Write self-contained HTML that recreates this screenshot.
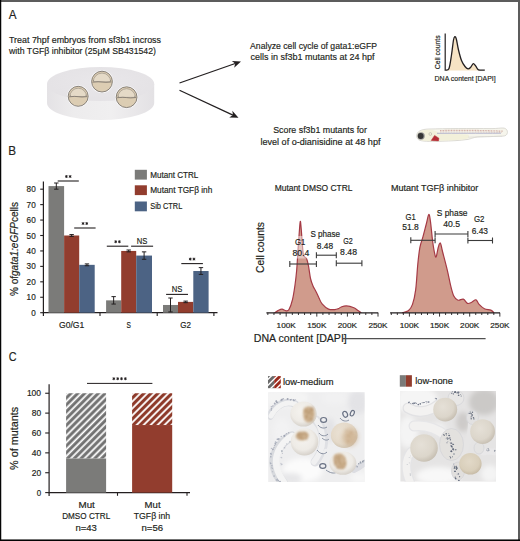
<!DOCTYPE html>
<html><head><meta charset="utf-8"><style>
html,body{margin:0;padding:0;background:#fff;width:520px;height:541px;overflow:hidden}
svg{display:block}
svg text{font-family:"Liberation Sans", sans-serif;}
</style></head><body>
<svg width="520" height="541" viewBox="0 0 520 541">
<rect x="0" y="0" width="520" height="541" fill="#fff"/>
<text x="8.70" y="19.20" font-size="13.4" fill="#231f20" stroke="#231f20" stroke-width="0.18" textLength="7.80" lengthAdjust="spacingAndGlyphs" >A</text>
<text x="9.00" y="43.10" font-size="9.8" fill="#231f20" stroke="#231f20" stroke-width="0.18" textLength="152.00" lengthAdjust="spacingAndGlyphs" >Treat 7hpf embryos from sf3b1 incross</text>
<text x="9.00" y="54.10" font-size="9.8" fill="#231f20" stroke="#231f20" stroke-width="0.18" textLength="147.00" lengthAdjust="spacingAndGlyphs" >with TGF&#946; inhibitor (25&#956;M SB431542)</text>
<defs><linearGradient id="dishside" x1="0" y1="0" x2="1" y2="0"><stop offset="0" stop-color="#e4e2e5"/><stop offset="0.25" stop-color="#edeced"/><stop offset="0.6" stop-color="#f0eff0"/><stop offset="1" stop-color="#e3e1e4"/></linearGradient><radialGradient id="dishtop" cx="0.5" cy="0.45" r="0.6"><stop offset="0" stop-color="#e9e7ea"/><stop offset="1" stop-color="#e4e2e5"/></radialGradient><linearGradient id="emb" x1="0" y1="0" x2="0" y2="1"><stop offset="0" stop-color="#e3d6c0"/><stop offset="1" stop-color="#d6c6a9"/></linearGradient></defs>
<path d="M46.99999999999999,84.0 L46.99999999999999,103.0 A53.6,17.0 0 0 0 154.2,103.0 L154.2,84.0 Z" fill="url(#dishside)"/>
<ellipse cx="100.6" cy="84.0" rx="53.6" ry="17.0" fill="url(#dishtop)"/>
<circle cx="78.2" cy="96.3" r="11.0" fill="#fbfafb"/>
<circle cx="78.2" cy="96.3" r="10" fill="#dccdb3" stroke="#6d675f" stroke-width="0.8"/>
<path d="M69.90,96.50 A8.30,8.30 0 0 1 86.50,96.50 Z" fill="#e5dac7" stroke="#8b847a" stroke-width="0.55"/>
<path d="M69.00,96.90 Q75.20,95.90 78.20,96.70 T87.40,96.60" fill="none" stroke="#7d766c" stroke-width="0.75"/>
<path d="M69.60,94.70 l1.2,1.2 M86.80,94.70 l-1.2,1.2" stroke="#8b847a" stroke-width="0.6" fill="none"/>
<circle cx="102" cy="81.6" r="11.4" fill="#fbfafb"/>
<circle cx="102" cy="81.6" r="10.4" fill="#dccdb3" stroke="#6d675f" stroke-width="0.8"/>
<path d="M93.30,81.80 A8.70,8.70 0 0 1 110.70,81.80 Z" fill="#e5dac7" stroke="#8b847a" stroke-width="0.55"/>
<path d="M92.40,82.20 Q99.00,81.20 102.00,82.00 T111.60,81.90" fill="none" stroke="#7d766c" stroke-width="0.75"/>
<path d="M93.00,80.00 l1.2,1.2 M111.00,80.00 l-1.2,1.2" stroke="#8b847a" stroke-width="0.6" fill="none"/>
<circle cx="126.6" cy="97.2" r="11.4" fill="#fbfafb"/>
<circle cx="126.6" cy="97.2" r="10.4" fill="#dccdb3" stroke="#6d675f" stroke-width="0.8"/>
<path d="M117.90,97.40 A8.70,8.70 0 0 1 135.30,97.40 Z" fill="#e5dac7" stroke="#8b847a" stroke-width="0.55"/>
<path d="M117.00,97.80 Q123.60,96.80 126.60,97.60 T136.20,97.50" fill="none" stroke="#7d766c" stroke-width="0.75"/>
<path d="M117.60,95.60 l1.2,1.2 M135.60,95.60 l-1.2,1.2" stroke="#8b847a" stroke-width="0.6" fill="none"/>
<line x1="179.5" y1="83" x2="235.22" y2="63.52" stroke="#231f20" stroke-width="1.25"/>
<path d="M241.00,61.50 L234.16,67.70 L235.22,63.52 L231.79,60.91 Z" fill="#231f20"/>
<line x1="179.5" y1="90.3" x2="232.95" y2="115.12" stroke="#231f20" stroke-width="1.25"/>
<path d="M238.50,117.70 L229.27,117.38 L232.95,115.12 L232.31,110.85 Z" fill="#231f20"/>
<text x="250.10" y="48.90" font-size="9.8" fill="#231f20" stroke="#231f20" stroke-width="0.18" textLength="126.90" lengthAdjust="spacingAndGlyphs" >Analyze cell cycle of gata1:eGFP</text>
<text x="250.40" y="59.90" font-size="9.8" fill="#231f20" stroke="#231f20" stroke-width="0.18" textLength="124.10" lengthAdjust="spacingAndGlyphs" >cells in sf3b1 mutants at 24 hpf</text>
<text x="273.20" y="132.90" font-size="9.7" fill="#231f20" stroke="#231f20" stroke-width="0.18" textLength="93.80" lengthAdjust="spacingAndGlyphs" >Score sf3b1 mutants for</text>
<text x="260.40" y="144.60" font-size="9.7" fill="#231f20" stroke="#231f20" stroke-width="0.18" textLength="120.10" lengthAdjust="spacingAndGlyphs" >level of o-dianisidine at 48 hpf</text>
<path d="M445.50,70.20 C446.08,69.92 448.00,71.03 449.00,68.50 C450.00,65.97 450.75,59.75 451.50,55.00 C452.25,50.25 452.95,43.07 453.50,40.00 C454.05,36.93 454.33,36.77 454.80,36.60 C455.27,36.43 455.68,36.77 456.30,39.00 C456.92,41.23 457.63,46.42 458.50,50.00 C459.37,53.58 460.42,57.75 461.50,60.50 C462.58,63.25 463.92,65.12 465.00,66.50 C466.08,67.88 467.08,68.63 468.00,68.80 C468.92,68.97 469.62,68.37 470.50,67.50 C471.38,66.63 472.42,63.82 473.30,63.60 C474.18,63.38 474.93,65.17 475.80,66.20 C476.67,67.23 477.00,69.13 478.50,69.80 C480.00,70.47 483.75,70.13 484.80,70.20 L484.8,70.6 L445.5,70.6 Z" fill="#f6e3c4"/>
<path d="M445.50,70.20 C446.08,69.92 448.00,71.03 449.00,68.50 C450.00,65.97 450.75,59.75 451.50,55.00 C452.25,50.25 452.95,43.07 453.50,40.00 C454.05,36.93 454.33,36.77 454.80,36.60 C455.27,36.43 455.68,36.77 456.30,39.00 C456.92,41.23 457.63,46.42 458.50,50.00 C459.37,53.58 460.42,57.75 461.50,60.50 C462.58,63.25 463.92,65.12 465.00,66.50 C466.08,67.88 467.08,68.63 468.00,68.80 C468.92,68.97 469.62,68.37 470.50,67.50 C471.38,66.63 472.42,63.82 473.30,63.60 C474.18,63.38 474.93,65.17 475.80,66.20 C476.67,67.23 477.00,69.13 478.50,69.80 C480.00,70.47 483.75,70.13 484.80,70.20" fill="none" stroke="#231f20" stroke-width="1.3" stroke-linejoin="round"/>
<line x1="445.2" y1="33.5" x2="445.2" y2="70.8" stroke="#231f20" stroke-width="1.2"/>
<text transform="translate(440.20,69.20) rotate(-90)" x="0" y="0" font-size="7.8" fill="#231f20" stroke="#231f20" stroke-width="0.18" textLength="33.80" lengthAdjust="spacingAndGlyphs" >Cell counts</text>
<text x="434.60" y="81.20" font-size="7.8" fill="#231f20" stroke="#231f20" stroke-width="0.18" textLength="61.10" lengthAdjust="spacingAndGlyphs" >DNA content [DAPI]</text>
<g><path d="M416.6,136 C416.6,131.5 421,129.2 429,129 C445,128.5 470,128.4 492,128.6 C497,128.6 500,127.9 503,128.0 C506.5,128.2 507.6,130.5 507.4,132.5 C507.2,135 505.5,136.2 502,136.2 C497,136.3 492,136.6 480,136.8 C474,137 471,138.8 468,139.4 C460,140.6 450,141 442,141.2 C434,141.6 424,141.6 420,140.4 C417.8,139.6 416.6,138 416.6,136 Z" fill="#f6f5ec" stroke="#cfcdc6" stroke-width="0.7"/><path d="M417.5,136 C417.5,132 421,130 428,129.7 C434,129.6 438,131.5 440,133.5 C448,134 458,134.2 468,134.6 C470,136 469,138.4 466,139 C458,140.2 448,140.6 440,140.8 C432,141.2 424,141.2 420.5,140 C418.4,139.2 417.5,137.8 417.5,136 Z" fill="#f2f0da"/><path d="M440,130.6 C460,130.2 480,130.3 503,131.2" fill="none" stroke="#cfa9a0" stroke-width="1.3" stroke-dasharray="0.9,0.7"/><path d="M440,132.0 C460,131.8 480,131.9 502,132.5" fill="none" stroke="#d9beb6" stroke-width="0.9" stroke-dasharray="0.8,0.8"/><path d="M437,133.3 C455,133.2 478,133.3 501,133.2" fill="none" stroke="#a3a5c4" stroke-width="0.8"/><path d="M468,137.2 C478,136.8 490,136.6 502,136.3" fill="none" stroke="#d8d6d2" stroke-width="0.6"/><path d="M431.2,140.4 L434.6,135.4 L438.9,138.2 L438.5,140.9 Z" fill="#b52d35" stroke="#b52d35" stroke-width="0.5" stroke-linejoin="round"/><circle cx="430.3" cy="134" r="1.4" fill="none" stroke="#a8a69c" stroke-width="0.5"/><circle cx="421.1" cy="136" r="3.7" fill="#9a9a98"/><circle cx="420.7" cy="136" r="2.9" fill="#353535"/></g>
<text x="8.30" y="154.80" font-size="13.2" fill="#231f20" stroke="#231f20" stroke-width="0.18" textLength="7.80" lengthAdjust="spacingAndGlyphs" >B</text>
<line x1="43.4" y1="181.5" x2="43.4" y2="316" stroke="#231f20" stroke-width="1.2"/>
<line x1="42.8" y1="312.7" x2="217.5" y2="312.7" stroke="#231f20" stroke-width="1.2"/>
<line x1="100.0" y1="312.7" x2="100.0" y2="315.9" stroke="#231f20" stroke-width="1.1"/>
<line x1="157.2" y1="312.7" x2="157.2" y2="315.9" stroke="#231f20" stroke-width="1.1"/>
<line x1="213.9" y1="312.7" x2="213.9" y2="315.9" stroke="#231f20" stroke-width="1.1"/>
<line x1="40.2" y1="312.70" x2="43.4" y2="312.70" stroke="#231f20" stroke-width="1.1"/>
<text x="31.20" y="315.70" font-size="8.6" fill="#231f20" stroke="#231f20" stroke-width="0.18" textLength="4.50" lengthAdjust="spacingAndGlyphs" >0</text>
<line x1="40.2" y1="297.26" x2="43.4" y2="297.26" stroke="#231f20" stroke-width="1.1"/>
<text x="26.60" y="300.26" font-size="8.6" fill="#231f20" stroke="#231f20" stroke-width="0.18" textLength="9.10" lengthAdjust="spacingAndGlyphs" >10</text>
<line x1="40.2" y1="281.82" x2="43.4" y2="281.82" stroke="#231f20" stroke-width="1.1"/>
<text x="26.60" y="284.82" font-size="8.6" fill="#231f20" stroke="#231f20" stroke-width="0.18" textLength="9.10" lengthAdjust="spacingAndGlyphs" >20</text>
<line x1="40.2" y1="266.38" x2="43.4" y2="266.38" stroke="#231f20" stroke-width="1.1"/>
<text x="26.60" y="269.38" font-size="8.6" fill="#231f20" stroke="#231f20" stroke-width="0.18" textLength="9.10" lengthAdjust="spacingAndGlyphs" >30</text>
<line x1="40.2" y1="250.94" x2="43.4" y2="250.94" stroke="#231f20" stroke-width="1.1"/>
<text x="26.60" y="253.94" font-size="8.6" fill="#231f20" stroke="#231f20" stroke-width="0.18" textLength="9.10" lengthAdjust="spacingAndGlyphs" >40</text>
<line x1="40.2" y1="235.50" x2="43.4" y2="235.50" stroke="#231f20" stroke-width="1.1"/>
<text x="26.60" y="238.50" font-size="8.6" fill="#231f20" stroke="#231f20" stroke-width="0.18" textLength="9.10" lengthAdjust="spacingAndGlyphs" >50</text>
<line x1="40.2" y1="220.06" x2="43.4" y2="220.06" stroke="#231f20" stroke-width="1.1"/>
<text x="26.60" y="223.06" font-size="8.6" fill="#231f20" stroke="#231f20" stroke-width="0.18" textLength="9.10" lengthAdjust="spacingAndGlyphs" >60</text>
<line x1="40.2" y1="204.62" x2="43.4" y2="204.62" stroke="#231f20" stroke-width="1.1"/>
<text x="26.60" y="207.62" font-size="8.6" fill="#231f20" stroke="#231f20" stroke-width="0.18" textLength="9.10" lengthAdjust="spacingAndGlyphs" >70</text>
<line x1="40.2" y1="189.18" x2="43.4" y2="189.18" stroke="#231f20" stroke-width="1.1"/>
<text x="26.60" y="192.18" font-size="8.6" fill="#231f20" stroke="#231f20" stroke-width="0.18" textLength="9.10" lengthAdjust="spacingAndGlyphs" >80</text>
<text transform="translate(18.40,296.00) rotate(-90)" x="0" y="0" font-size="10.0" fill="#231f20" stroke="#231f20" stroke-width="0.18" textLength="94.00" lengthAdjust="spacingAndGlyphs" >% of<tspan font-style="italic">gata1:eGFP</tspan>cells</text>
<rect x="48.5" y="186.09" width="15.60" height="126.61" fill="#7b7b79"/>
<rect x="64.1" y="235.50" width="15.10" height="77.20" fill="#923d2e"/>
<rect x="79.2" y="264.84" width="15.50" height="47.86" fill="#4c6384"/>
<rect x="106.1" y="300.35" width="15.10" height="12.35" fill="#7b7b79"/>
<rect x="121.2" y="250.94" width="15.00" height="61.76" fill="#923d2e"/>
<rect x="136.2" y="255.57" width="15.80" height="57.13" fill="#4c6384"/>
<rect x="163.0" y="304.98" width="15.00" height="7.72" fill="#7b7b79"/>
<rect x="178.0" y="301.89" width="15.30" height="10.81" fill="#923d2e"/>
<rect x="193.3" y="271.01" width="15.30" height="41.69" fill="#4c6384"/>
<line x1="56.30" y1="183.00" x2="56.30" y2="189.18" stroke="#231f20" stroke-width="1"/>
<line x1="54.10" y1="183.00" x2="58.50" y2="183.00" stroke="#231f20" stroke-width="1"/>
<line x1="54.10" y1="189.18" x2="58.50" y2="189.18" stroke="#231f20" stroke-width="1"/>
<line x1="71.65" y1="234.57" x2="71.65" y2="236.43" stroke="#231f20" stroke-width="1"/>
<line x1="69.45" y1="234.57" x2="73.85" y2="234.57" stroke="#231f20" stroke-width="1"/>
<line x1="69.45" y1="236.43" x2="73.85" y2="236.43" stroke="#231f20" stroke-width="1"/>
<line x1="86.95" y1="263.91" x2="86.95" y2="265.76" stroke="#231f20" stroke-width="1"/>
<line x1="84.75" y1="263.91" x2="89.15" y2="263.91" stroke="#231f20" stroke-width="1"/>
<line x1="84.75" y1="265.76" x2="89.15" y2="265.76" stroke="#231f20" stroke-width="1"/>
<line x1="113.65" y1="296.64" x2="113.65" y2="304.05" stroke="#231f20" stroke-width="1"/>
<line x1="111.45" y1="296.64" x2="115.85" y2="296.64" stroke="#231f20" stroke-width="1"/>
<line x1="111.45" y1="304.05" x2="115.85" y2="304.05" stroke="#231f20" stroke-width="1"/>
<line x1="128.70" y1="250.01" x2="128.70" y2="251.87" stroke="#231f20" stroke-width="1"/>
<line x1="126.50" y1="250.01" x2="130.90" y2="250.01" stroke="#231f20" stroke-width="1"/>
<line x1="126.50" y1="251.87" x2="130.90" y2="251.87" stroke="#231f20" stroke-width="1"/>
<line x1="144.10" y1="251.87" x2="144.10" y2="259.28" stroke="#231f20" stroke-width="1"/>
<line x1="141.90" y1="251.87" x2="146.30" y2="251.87" stroke="#231f20" stroke-width="1"/>
<line x1="141.90" y1="259.28" x2="146.30" y2="259.28" stroke="#231f20" stroke-width="1"/>
<line x1="170.50" y1="298.03" x2="170.50" y2="311.93" stroke="#231f20" stroke-width="1"/>
<line x1="168.30" y1="298.03" x2="172.70" y2="298.03" stroke="#231f20" stroke-width="1"/>
<line x1="168.30" y1="311.93" x2="172.70" y2="311.93" stroke="#231f20" stroke-width="1"/>
<line x1="185.65" y1="301.12" x2="185.65" y2="302.66" stroke="#231f20" stroke-width="1"/>
<line x1="183.45" y1="301.12" x2="187.85" y2="301.12" stroke="#231f20" stroke-width="1"/>
<line x1="183.45" y1="302.66" x2="187.85" y2="302.66" stroke="#231f20" stroke-width="1"/>
<line x1="200.95" y1="267.62" x2="200.95" y2="274.41" stroke="#231f20" stroke-width="1"/>
<line x1="198.75" y1="267.62" x2="203.15" y2="267.62" stroke="#231f20" stroke-width="1"/>
<line x1="198.75" y1="274.41" x2="203.15" y2="274.41" stroke="#231f20" stroke-width="1"/>
<line x1="57.7" y1="181.0" x2="78.8" y2="181.0" stroke="#231f20" stroke-width="1.1"/>
<path d="M66.40,175.00 L66.40,178.00 M65.10,175.75 L67.70,177.25 M65.10,177.25 L67.70,175.75 " stroke="#231f20" stroke-width="0.85" fill="none"/>
<circle cx="66.40" cy="176.50" r="0.75" fill="#231f20"/>
<path d="M70.10,175.00 L70.10,178.00 M68.80,175.75 L71.40,177.25 M68.80,177.25 L71.40,175.75 " stroke="#231f20" stroke-width="0.85" fill="none"/>
<circle cx="70.10" cy="176.50" r="0.75" fill="#231f20"/>
<line x1="74.2" y1="228.0" x2="95.6" y2="228.0" stroke="#231f20" stroke-width="1.1"/>
<path d="M83.05,222.00 L83.05,225.00 M81.75,222.75 L84.35,224.25 M81.75,224.25 L84.35,222.75 " stroke="#231f20" stroke-width="0.85" fill="none"/>
<circle cx="83.05" cy="223.50" r="0.75" fill="#231f20"/>
<path d="M86.75,222.00 L86.75,225.00 M85.45,222.75 L88.05,224.25 M85.45,224.25 L88.05,222.75 " stroke="#231f20" stroke-width="0.85" fill="none"/>
<circle cx="86.75" cy="223.50" r="0.75" fill="#231f20"/>
<line x1="106.8" y1="246.2" x2="128.3" y2="246.2" stroke="#231f20" stroke-width="1.1"/>
<path d="M115.70,240.20 L115.70,243.20 M114.40,240.95 L117.00,242.45 M114.40,242.45 L117.00,240.95 " stroke="#231f20" stroke-width="0.85" fill="none"/>
<circle cx="115.70" cy="241.70" r="0.75" fill="#231f20"/>
<path d="M119.40,240.20 L119.40,243.20 M118.10,240.95 L120.70,242.45 M118.10,242.45 L120.70,240.95 " stroke="#231f20" stroke-width="0.85" fill="none"/>
<circle cx="119.40" cy="241.70" r="0.75" fill="#231f20"/>
<line x1="131.1" y1="246.2" x2="153.1" y2="246.2" stroke="#231f20" stroke-width="1.1"/>
<text x="136.80" y="243.60" font-size="8.8" fill="#231f20" stroke="#231f20" stroke-width="0.18" textLength="10.60" lengthAdjust="spacingAndGlyphs" >NS</text>
<line x1="166.1" y1="294.4" x2="188.0" y2="294.4" stroke="#231f20" stroke-width="1.1"/>
<text x="171.75" y="291.80" font-size="8.8" fill="#231f20" stroke="#231f20" stroke-width="0.18" textLength="10.60" lengthAdjust="spacingAndGlyphs" >NS</text>
<line x1="181.3" y1="263.6" x2="202.9" y2="263.6" stroke="#231f20" stroke-width="1.1"/>
<path d="M190.25,257.60 L190.25,260.60 M188.95,258.35 L191.55,259.85 M188.95,259.85 L191.55,258.35 " stroke="#231f20" stroke-width="0.85" fill="none"/>
<circle cx="190.25" cy="259.10" r="0.75" fill="#231f20"/>
<path d="M193.95,257.60 L193.95,260.60 M192.65,258.35 L195.25,259.85 M192.65,259.85 L195.25,258.35 " stroke="#231f20" stroke-width="0.85" fill="none"/>
<circle cx="193.95" cy="259.10" r="0.75" fill="#231f20"/>
<text x="59.00" y="328.20" font-size="8.8" fill="#231f20" stroke="#231f20" stroke-width="0.18" textLength="25.30" lengthAdjust="spacingAndGlyphs" >G0/G1</text>
<text x="126.50" y="328.20" font-size="8.8" fill="#231f20" stroke="#231f20" stroke-width="0.18" textLength="4.40" lengthAdjust="spacingAndGlyphs" >S</text>
<text x="180.20" y="328.20" font-size="8.8" fill="#231f20" stroke="#231f20" stroke-width="0.18" textLength="10.70" lengthAdjust="spacingAndGlyphs" >G2</text>
<rect x="134.8" y="169.8" width="12.1" height="9.8" fill="#7b7b79"/>
<text x="150.20" y="177.70" font-size="9.0" fill="#231f20" stroke="#231f20" stroke-width="0.18" textLength="48.10" lengthAdjust="spacingAndGlyphs" >Mutant CTRL</text>
<rect x="134.8" y="185.3" width="12.1" height="9.8" fill="#923d2e"/>
<text x="150.20" y="193.20" font-size="9.0" fill="#231f20" stroke="#231f20" stroke-width="0.18" textLength="62.10" lengthAdjust="spacingAndGlyphs" >Mutant TGF&#946; inh</text>
<rect x="134.8" y="201.5" width="12.1" height="9.8" fill="#4c6384"/>
<text x="150.20" y="209.40" font-size="9.0" fill="#231f20" stroke="#231f20" stroke-width="0.18" textLength="32.10" lengthAdjust="spacingAndGlyphs" >Sib CTRL</text>
<text x="274.70" y="191.10" font-size="8.3" fill="#231f20" stroke="#231f20" stroke-width="0.18" textLength="77.80" lengthAdjust="spacingAndGlyphs" >Mutant DMSO CTRL</text>
<text x="391.00" y="191.10" font-size="8.3" fill="#231f20" stroke="#231f20" stroke-width="0.18" textLength="87.30" lengthAdjust="spacingAndGlyphs" >Mutant TGF&#946; inhibitor</text>
<text transform="translate(263.90,273.00) rotate(-90)" x="0" y="0" font-size="10.2" fill="#231f20" stroke="#231f20" stroke-width="0.18" textLength="51.00" lengthAdjust="spacingAndGlyphs" >Cell counts</text>
<path d="M274.50,312.80 C275.08,312.43 276.75,311.20 278.00,310.60 C279.25,310.00 280.67,309.17 282.00,309.20 C283.33,309.23 284.83,310.75 286.00,310.80 C287.17,310.85 287.92,311.37 289.00,309.50 C290.08,307.63 291.50,303.68 292.50,299.60 C293.50,295.52 294.30,289.93 295.00,285.00 C295.70,280.07 296.20,275.83 296.70,270.00 C297.20,264.17 297.57,256.33 298.00,250.00 C298.43,243.67 298.92,236.78 299.30,232.00 C299.68,227.22 299.97,221.63 300.30,221.30 C300.63,220.97 300.95,226.05 301.30,230.00 C301.65,233.95 302.02,240.75 302.40,245.00 C302.78,249.25 302.92,253.25 303.60,255.50 C304.28,257.75 305.68,256.75 306.50,258.50 C307.32,260.25 307.83,262.67 308.50,266.00 C309.17,269.33 309.75,275.17 310.50,278.50 C311.25,281.83 312.12,283.88 313.00,286.00 C313.88,288.12 314.80,289.20 315.80,291.20 C316.80,293.20 317.95,295.88 319.00,298.00 C320.05,300.12 320.52,302.05 322.10,303.90 C323.68,305.75 326.38,308.15 328.50,309.10 C330.62,310.05 333.13,309.68 334.80,309.60 C336.47,309.52 337.43,309.03 338.50,308.60 C339.57,308.17 339.88,307.45 341.20,307.00 C342.52,306.55 344.28,305.77 346.40,305.90 C348.52,306.03 351.97,307.03 353.90,307.80 C355.83,308.57 356.77,309.67 358.00,310.50 C359.23,311.33 360.75,312.42 361.30,312.80 Z" fill="#d09b8c"/>
<path d="M274.50,312.80 C275.08,312.43 276.75,311.20 278.00,310.60 C279.25,310.00 280.67,309.17 282.00,309.20 C283.33,309.23 284.83,310.75 286.00,310.80 C287.17,310.85 287.92,311.37 289.00,309.50 C290.08,307.63 291.50,303.68 292.50,299.60 C293.50,295.52 294.30,289.93 295.00,285.00 C295.70,280.07 296.20,275.83 296.70,270.00 C297.20,264.17 297.57,256.33 298.00,250.00 C298.43,243.67 298.92,236.78 299.30,232.00 C299.68,227.22 299.97,221.63 300.30,221.30 C300.63,220.97 300.95,226.05 301.30,230.00 C301.65,233.95 302.02,240.75 302.40,245.00 C302.78,249.25 302.92,253.25 303.60,255.50 C304.28,257.75 305.68,256.75 306.50,258.50 C307.32,260.25 307.83,262.67 308.50,266.00 C309.17,269.33 309.75,275.17 310.50,278.50 C311.25,281.83 312.12,283.88 313.00,286.00 C313.88,288.12 314.80,289.20 315.80,291.20 C316.80,293.20 317.95,295.88 319.00,298.00 C320.05,300.12 320.52,302.05 322.10,303.90 C323.68,305.75 326.38,308.15 328.50,309.10 C330.62,310.05 333.13,309.68 334.80,309.60 C336.47,309.52 337.43,309.03 338.50,308.60 C339.57,308.17 339.88,307.45 341.20,307.00 C342.52,306.55 344.28,305.77 346.40,305.90 C348.52,306.03 351.97,307.03 353.90,307.80 C355.83,308.57 356.77,309.67 358.00,310.50 C359.23,311.33 360.75,312.42 361.30,312.80" fill="none" stroke="#a53a45" stroke-width="1.2" stroke-linejoin="round"/>
<path d="M402.00,312.80 C403.05,312.47 406.55,312.20 408.30,310.80 C410.05,309.40 411.27,307.93 412.50,304.40 C413.73,300.87 414.82,296.30 415.70,289.60 C416.58,282.90 417.10,271.25 417.80,264.20 C418.50,257.15 419.03,251.88 419.90,247.30 C420.77,242.72 421.93,240.58 423.00,236.70 C424.07,232.82 425.33,227.70 426.30,224.00 C427.27,220.30 428.10,214.85 428.80,214.50 C429.50,214.15 429.87,217.48 430.50,221.90 C431.13,226.32 431.90,235.70 432.60,241.00 C433.30,246.30 434.10,251.07 434.70,253.70 C435.30,256.33 435.60,257.87 436.20,256.80 C436.80,255.73 437.60,249.58 438.30,247.30 C439.00,245.02 439.70,242.40 440.40,243.10 C441.10,243.80 441.33,246.92 442.50,251.50 C443.67,256.08 446.05,264.95 447.40,270.60 C448.75,276.25 449.53,281.17 450.60,285.40 C451.67,289.63 452.57,293.53 453.80,296.00 C455.03,298.47 456.42,299.68 458.00,300.20 C459.58,300.72 461.72,298.57 463.30,299.10 C464.88,299.63 466.10,302.87 467.50,303.40 C468.90,303.93 470.28,302.90 471.70,302.30 C473.12,301.70 474.77,299.45 476.00,299.80 C477.23,300.15 477.70,302.92 479.10,304.40 C480.50,305.88 482.45,307.75 484.40,308.70 C486.35,309.65 489.20,309.42 490.80,310.10 C492.40,310.78 493.47,312.35 494.00,312.80 Z" fill="#d09b8c"/>
<path d="M402.00,312.80 C403.05,312.47 406.55,312.20 408.30,310.80 C410.05,309.40 411.27,307.93 412.50,304.40 C413.73,300.87 414.82,296.30 415.70,289.60 C416.58,282.90 417.10,271.25 417.80,264.20 C418.50,257.15 419.03,251.88 419.90,247.30 C420.77,242.72 421.93,240.58 423.00,236.70 C424.07,232.82 425.33,227.70 426.30,224.00 C427.27,220.30 428.10,214.85 428.80,214.50 C429.50,214.15 429.87,217.48 430.50,221.90 C431.13,226.32 431.90,235.70 432.60,241.00 C433.30,246.30 434.10,251.07 434.70,253.70 C435.30,256.33 435.60,257.87 436.20,256.80 C436.80,255.73 437.60,249.58 438.30,247.30 C439.00,245.02 439.70,242.40 440.40,243.10 C441.10,243.80 441.33,246.92 442.50,251.50 C443.67,256.08 446.05,264.95 447.40,270.60 C448.75,276.25 449.53,281.17 450.60,285.40 C451.67,289.63 452.57,293.53 453.80,296.00 C455.03,298.47 456.42,299.68 458.00,300.20 C459.58,300.72 461.72,298.57 463.30,299.10 C464.88,299.63 466.10,302.87 467.50,303.40 C468.90,303.93 470.28,302.90 471.70,302.30 C473.12,301.70 474.77,299.45 476.00,299.80 C477.23,300.15 477.70,302.92 479.10,304.40 C480.50,305.88 482.45,307.75 484.40,308.70 C486.35,309.65 489.20,309.42 490.80,310.10 C492.40,310.78 493.47,312.35 494.00,312.80" fill="none" stroke="#a53a45" stroke-width="1.2" stroke-linejoin="round"/>
<rect x="290" y="236" width="22" height="22.5" fill="#fff" opacity="0.45"/>
<line x1="266.4" y1="312.8" x2="378.2" y2="312.8" stroke="#231f20" stroke-width="1.2"/>
<line x1="267.84" y1="312.8" x2="267.84" y2="315.00" stroke="#231f20" stroke-width="0.9"/>
<line x1="273.96" y1="312.8" x2="273.96" y2="315.00" stroke="#231f20" stroke-width="0.9"/>
<line x1="280.08" y1="312.8" x2="280.08" y2="315.00" stroke="#231f20" stroke-width="0.9"/>
<line x1="286.20" y1="312.8" x2="286.20" y2="316.60" stroke="#231f20" stroke-width="0.9"/>
<line x1="292.32" y1="312.8" x2="292.32" y2="315.00" stroke="#231f20" stroke-width="0.9"/>
<line x1="298.44" y1="312.8" x2="298.44" y2="315.00" stroke="#231f20" stroke-width="0.9"/>
<line x1="304.56" y1="312.8" x2="304.56" y2="315.00" stroke="#231f20" stroke-width="0.9"/>
<line x1="310.68" y1="312.8" x2="310.68" y2="315.00" stroke="#231f20" stroke-width="0.9"/>
<line x1="316.80" y1="312.8" x2="316.80" y2="316.60" stroke="#231f20" stroke-width="0.9"/>
<line x1="322.92" y1="312.8" x2="322.92" y2="315.00" stroke="#231f20" stroke-width="0.9"/>
<line x1="329.04" y1="312.8" x2="329.04" y2="315.00" stroke="#231f20" stroke-width="0.9"/>
<line x1="335.16" y1="312.8" x2="335.16" y2="315.00" stroke="#231f20" stroke-width="0.9"/>
<line x1="341.28" y1="312.8" x2="341.28" y2="315.00" stroke="#231f20" stroke-width="0.9"/>
<line x1="347.40" y1="312.8" x2="347.40" y2="316.60" stroke="#231f20" stroke-width="0.9"/>
<line x1="353.52" y1="312.8" x2="353.52" y2="315.00" stroke="#231f20" stroke-width="0.9"/>
<line x1="359.64" y1="312.8" x2="359.64" y2="315.00" stroke="#231f20" stroke-width="0.9"/>
<line x1="365.76" y1="312.8" x2="365.76" y2="315.00" stroke="#231f20" stroke-width="0.9"/>
<line x1="371.88" y1="312.8" x2="371.88" y2="315.00" stroke="#231f20" stroke-width="0.9"/>
<line x1="378.00" y1="312.8" x2="378.00" y2="316.60" stroke="#231f20" stroke-width="0.9"/>
<text x="276.60" y="327.90" font-size="7.8" fill="#231f20" stroke="#231f20" stroke-width="0.18" textLength="19.20" lengthAdjust="spacingAndGlyphs" >100K</text>
<text x="307.20" y="327.90" font-size="7.8" fill="#231f20" stroke="#231f20" stroke-width="0.18" textLength="19.20" lengthAdjust="spacingAndGlyphs" >150K</text>
<text x="337.80" y="327.90" font-size="7.8" fill="#231f20" stroke="#231f20" stroke-width="0.18" textLength="19.20" lengthAdjust="spacingAndGlyphs" >200K</text>
<text x="368.40" y="327.90" font-size="7.8" fill="#231f20" stroke="#231f20" stroke-width="0.18" textLength="19.20" lengthAdjust="spacingAndGlyphs" >250K</text>
<line x1="390.1" y1="312.8" x2="500.0" y2="312.8" stroke="#231f20" stroke-width="1.2"/>
<line x1="391.31" y1="312.8" x2="391.31" y2="315.00" stroke="#231f20" stroke-width="0.9"/>
<line x1="397.34" y1="312.8" x2="397.34" y2="315.00" stroke="#231f20" stroke-width="0.9"/>
<line x1="403.37" y1="312.8" x2="403.37" y2="315.00" stroke="#231f20" stroke-width="0.9"/>
<line x1="409.40" y1="312.8" x2="409.40" y2="316.60" stroke="#231f20" stroke-width="0.9"/>
<line x1="415.43" y1="312.8" x2="415.43" y2="315.00" stroke="#231f20" stroke-width="0.9"/>
<line x1="421.46" y1="312.8" x2="421.46" y2="315.00" stroke="#231f20" stroke-width="0.9"/>
<line x1="427.49" y1="312.8" x2="427.49" y2="315.00" stroke="#231f20" stroke-width="0.9"/>
<line x1="433.52" y1="312.8" x2="433.52" y2="315.00" stroke="#231f20" stroke-width="0.9"/>
<line x1="439.55" y1="312.8" x2="439.55" y2="316.60" stroke="#231f20" stroke-width="0.9"/>
<line x1="445.58" y1="312.8" x2="445.58" y2="315.00" stroke="#231f20" stroke-width="0.9"/>
<line x1="451.61" y1="312.8" x2="451.61" y2="315.00" stroke="#231f20" stroke-width="0.9"/>
<line x1="457.64" y1="312.8" x2="457.64" y2="315.00" stroke="#231f20" stroke-width="0.9"/>
<line x1="463.67" y1="312.8" x2="463.67" y2="315.00" stroke="#231f20" stroke-width="0.9"/>
<line x1="469.70" y1="312.8" x2="469.70" y2="316.60" stroke="#231f20" stroke-width="0.9"/>
<line x1="475.73" y1="312.8" x2="475.73" y2="315.00" stroke="#231f20" stroke-width="0.9"/>
<line x1="481.76" y1="312.8" x2="481.76" y2="315.00" stroke="#231f20" stroke-width="0.9"/>
<line x1="487.79" y1="312.8" x2="487.79" y2="315.00" stroke="#231f20" stroke-width="0.9"/>
<line x1="493.82" y1="312.8" x2="493.82" y2="315.00" stroke="#231f20" stroke-width="0.9"/>
<line x1="499.85" y1="312.8" x2="499.85" y2="316.60" stroke="#231f20" stroke-width="0.9"/>
<text x="399.80" y="327.90" font-size="7.8" fill="#231f20" stroke="#231f20" stroke-width="0.18" textLength="19.20" lengthAdjust="spacingAndGlyphs" >100K</text>
<text x="429.95" y="327.90" font-size="7.8" fill="#231f20" stroke="#231f20" stroke-width="0.18" textLength="19.20" lengthAdjust="spacingAndGlyphs" >150K</text>
<text x="460.10" y="327.90" font-size="7.8" fill="#231f20" stroke="#231f20" stroke-width="0.18" textLength="19.20" lengthAdjust="spacingAndGlyphs" >200K</text>
<text x="490.25" y="327.90" font-size="7.8" fill="#231f20" stroke="#231f20" stroke-width="0.18" textLength="19.20" lengthAdjust="spacingAndGlyphs" >250K</text>
<line x1="289.8" y1="264.0" x2="316.4" y2="264.0" stroke="#3a3a3a" stroke-width="1.1"/>
<line x1="289.8" y1="261.0" x2="289.8" y2="267.0" stroke="#3a3a3a" stroke-width="1.1"/>
<line x1="316.4" y1="261.0" x2="316.4" y2="267.0" stroke="#3a3a3a" stroke-width="1.1"/>
<line x1="316.4" y1="255.2" x2="336.3" y2="255.2" stroke="#3a3a3a" stroke-width="1.1"/>
<line x1="316.4" y1="252.2" x2="316.4" y2="258.2" stroke="#3a3a3a" stroke-width="1.1"/>
<line x1="336.3" y1="252.2" x2="336.3" y2="258.2" stroke="#3a3a3a" stroke-width="1.1"/>
<line x1="336.3" y1="263.2" x2="361.9" y2="263.2" stroke="#3a3a3a" stroke-width="1.1"/>
<line x1="336.3" y1="260.2" x2="336.3" y2="266.2" stroke="#3a3a3a" stroke-width="1.1"/>
<line x1="361.9" y1="260.2" x2="361.9" y2="266.2" stroke="#3a3a3a" stroke-width="1.1"/>
<line x1="410.8" y1="240.3" x2="435.1" y2="240.3" stroke="#3a3a3a" stroke-width="1.1"/>
<line x1="410.8" y1="237.3" x2="410.8" y2="243.3" stroke="#3a3a3a" stroke-width="1.1"/>
<line x1="435.1" y1="237.3" x2="435.1" y2="243.3" stroke="#3a3a3a" stroke-width="1.1"/>
<line x1="435.1" y1="234.0" x2="467.9" y2="234.0" stroke="#3a3a3a" stroke-width="1.1"/>
<line x1="435.1" y1="231.0" x2="435.1" y2="237.0" stroke="#3a3a3a" stroke-width="1.1"/>
<line x1="467.9" y1="231.0" x2="467.9" y2="237.0" stroke="#3a3a3a" stroke-width="1.1"/>
<line x1="467.9" y1="240.5" x2="492.5" y2="240.5" stroke="#3a3a3a" stroke-width="1.1"/>
<line x1="467.9" y1="237.5" x2="467.9" y2="243.5" stroke="#3a3a3a" stroke-width="1.1"/>
<line x1="492.5" y1="237.5" x2="492.5" y2="243.5" stroke="#3a3a3a" stroke-width="1.1"/>
<text x="295.00" y="244.60" font-size="8.9" fill="#231f20" stroke="#231f20" stroke-width="0.18" textLength="10.20" lengthAdjust="spacingAndGlyphs" >G1</text>
<text x="292.50" y="255.60" font-size="8.9" fill="#231f20" stroke="#231f20" stroke-width="0.18" textLength="16.90" lengthAdjust="spacingAndGlyphs" >80.4</text>
<text x="310.50" y="237.20" font-size="8.9" fill="#231f20" stroke="#231f20" stroke-width="0.18" textLength="29.60" lengthAdjust="spacingAndGlyphs" >S phase</text>
<text x="316.80" y="248.80" font-size="8.9" fill="#231f20" stroke="#231f20" stroke-width="0.18" textLength="16.30" lengthAdjust="spacingAndGlyphs" >8.48</text>
<text x="343.30" y="243.60" font-size="8.9" fill="#231f20" stroke="#231f20" stroke-width="0.18" textLength="9.50" lengthAdjust="spacingAndGlyphs" >G2</text>
<text x="340.10" y="254.80" font-size="8.9" fill="#231f20" stroke="#231f20" stroke-width="0.18" textLength="16.90" lengthAdjust="spacingAndGlyphs" >8.48</text>
<text x="405.50" y="219.80" font-size="8.9" fill="#231f20" stroke="#231f20" stroke-width="0.18" textLength="10.20" lengthAdjust="spacingAndGlyphs" >G1</text>
<text x="402.30" y="230.40" font-size="8.9" fill="#231f20" stroke="#231f20" stroke-width="0.18" textLength="16.50" lengthAdjust="spacingAndGlyphs" >51.8</text>
<text x="436.80" y="215.60" font-size="8.9" fill="#231f20" stroke="#231f20" stroke-width="0.18" textLength="30.70" lengthAdjust="spacingAndGlyphs" >S phase</text>
<text x="443.20" y="226.80" font-size="8.9" fill="#231f20" stroke="#231f20" stroke-width="0.18" textLength="16.90" lengthAdjust="spacingAndGlyphs" >40.5</text>
<text x="473.90" y="222.30" font-size="8.9" fill="#231f20" stroke="#231f20" stroke-width="0.18" textLength="10.50" lengthAdjust="spacingAndGlyphs" >G2</text>
<text x="471.70" y="233.60" font-size="8.9" fill="#231f20" stroke="#231f20" stroke-width="0.18" textLength="16.30" lengthAdjust="spacingAndGlyphs" >6.43</text>
<text x="253.80" y="341.70" font-size="10.6" fill="#231f20" stroke="#231f20" stroke-width="0.18" textLength="93.00" lengthAdjust="spacingAndGlyphs" >DNA content [DAPI]</text>
<line x1="343" y1="338.7" x2="485.6" y2="338.7" stroke="#505050" stroke-width="1.2"/>
<text x="8.70" y="361.20" font-size="13.4" fill="#231f20" stroke="#231f20" stroke-width="0.18" textLength="7.80" lengthAdjust="spacingAndGlyphs" >C</text>
<defs><pattern id="hg" patternUnits="userSpaceOnUse" width="4.84" height="4.84" patternTransform="translate(66.1,393.1) rotate(45)"><rect x="0" y="0" width="4.84" height="4.84" fill="#717171"/><rect x="0.3" y="0" width="1.8" height="4.84" fill="#fff"/></pattern><pattern id="hr" patternUnits="userSpaceOnUse" width="4.93" height="4.93" patternTransform="translate(132.1,393.3) rotate(45)"><rect x="0" y="0" width="4.93" height="4.93" fill="#8e3a2a"/><rect x="0.15" y="0" width="1.8" height="4.93" fill="#fff"/></pattern><pattern id="lg" patternUnits="userSpaceOnUse" width="4" height="4" patternTransform="translate(267.9,376.1) rotate(45)"><rect x="0" y="0" width="4" height="4" fill="#6a6a6a"/><rect x="1.5" y="0" width="1.4" height="4" fill="#fff"/></pattern><pattern id="lr" patternUnits="userSpaceOnUse" width="4" height="4" patternTransform="translate(267.9,376.1) rotate(45)"><rect x="0" y="0" width="4" height="4" fill="#9a2a1c"/><rect x="1.5" y="0" width="1.4" height="4" fill="#fff"/></pattern></defs>
<line x1="49.1" y1="384.2" x2="49.1" y2="496" stroke="#231f20" stroke-width="1.2"/>
<line x1="48.5" y1="492.6" x2="190" y2="492.6" stroke="#231f20" stroke-width="1.2"/>
<line x1="117.5" y1="492.6" x2="117.5" y2="495.8" stroke="#231f20" stroke-width="1.1"/>
<line x1="187.0" y1="492.6" x2="187.0" y2="495.8" stroke="#231f20" stroke-width="1.1"/>
<line x1="45.2" y1="492.60" x2="49.1" y2="492.60" stroke="#231f20" stroke-width="1.1"/>
<text x="36.70" y="495.60" font-size="8.6" fill="#231f20" stroke="#231f20" stroke-width="0.18" textLength="4.40" lengthAdjust="spacingAndGlyphs" >0</text>
<line x1="45.2" y1="472.73" x2="49.1" y2="472.73" stroke="#231f20" stroke-width="1.1"/>
<text x="31.70" y="475.73" font-size="8.6" fill="#231f20" stroke="#231f20" stroke-width="0.18" textLength="9.40" lengthAdjust="spacingAndGlyphs" >20</text>
<line x1="45.2" y1="452.86" x2="49.1" y2="452.86" stroke="#231f20" stroke-width="1.1"/>
<text x="31.70" y="455.86" font-size="8.6" fill="#231f20" stroke="#231f20" stroke-width="0.18" textLength="9.40" lengthAdjust="spacingAndGlyphs" >40</text>
<line x1="45.2" y1="432.99" x2="49.1" y2="432.99" stroke="#231f20" stroke-width="1.1"/>
<text x="31.70" y="435.99" font-size="8.6" fill="#231f20" stroke="#231f20" stroke-width="0.18" textLength="9.40" lengthAdjust="spacingAndGlyphs" >60</text>
<line x1="45.2" y1="413.12" x2="49.1" y2="413.12" stroke="#231f20" stroke-width="1.1"/>
<text x="31.70" y="416.12" font-size="8.6" fill="#231f20" stroke="#231f20" stroke-width="0.18" textLength="9.40" lengthAdjust="spacingAndGlyphs" >80</text>
<line x1="45.2" y1="393.25" x2="49.1" y2="393.25" stroke="#231f20" stroke-width="1.1"/>
<text x="26.90" y="396.25" font-size="8.6" fill="#231f20" stroke="#231f20" stroke-width="0.18" textLength="14.20" lengthAdjust="spacingAndGlyphs" >100</text>
<text transform="translate(18.10,470.00) rotate(-90)" x="0" y="0" font-size="10.2" fill="#231f20" stroke="#231f20" stroke-width="0.18" textLength="63.20" lengthAdjust="spacingAndGlyphs" >% of mutants</text>
<rect x="66.1" y="393.25" width="40" height="65.27" fill="url(#hg)"/>
<rect x="66.1" y="458.52" width="40" height="34.08" fill="#7b7b79"/>
<rect x="132.1" y="393.25" width="40.1" height="31.79" fill="url(#hr)"/>
<rect x="132.1" y="425.04" width="40.1" height="67.56" fill="#923d2e"/>
<line x1="87" y1="383.4" x2="152.4" y2="383.4" stroke="#231f20" stroke-width="1.0"/>
<path d="M113.80,377.20 L113.80,380.20 M112.50,377.95 L115.10,379.45 M112.50,379.45 L115.10,377.95 " stroke="#231f20" stroke-width="0.85" fill="none"/>
<circle cx="113.80" cy="378.70" r="0.75" fill="#231f20"/>
<path d="M117.70,377.20 L117.70,380.20 M116.40,377.95 L119.00,379.45 M116.40,379.45 L119.00,377.95 " stroke="#231f20" stroke-width="0.85" fill="none"/>
<circle cx="117.70" cy="378.70" r="0.75" fill="#231f20"/>
<path d="M121.50,377.20 L121.50,380.20 M120.20,377.95 L122.80,379.45 M120.20,379.45 L122.80,377.95 " stroke="#231f20" stroke-width="0.85" fill="none"/>
<circle cx="121.50" cy="378.70" r="0.75" fill="#231f20"/>
<path d="M125.40,377.20 L125.40,380.20 M124.10,377.95 L126.70,379.45 M124.10,379.45 L126.70,377.95 " stroke="#231f20" stroke-width="0.85" fill="none"/>
<circle cx="125.40" cy="378.70" r="0.75" fill="#231f20"/>
<text x="78.50" y="507.70" font-size="9.4" fill="#231f20" stroke="#231f20" stroke-width="0.18" textLength="16.30" lengthAdjust="spacingAndGlyphs" >Mut</text>
<text x="62.20" y="519.30" font-size="9.4" fill="#231f20" stroke="#231f20" stroke-width="0.18" textLength="48.00" lengthAdjust="spacingAndGlyphs" >DMSO CTRL</text>
<text x="75.40" y="530.90" font-size="9.4" fill="#231f20" stroke="#231f20" stroke-width="0.18" textLength="21.50" lengthAdjust="spacingAndGlyphs" >n=43</text>
<text x="144.60" y="507.70" font-size="9.4" fill="#231f20" stroke="#231f20" stroke-width="0.18" textLength="16.00" lengthAdjust="spacingAndGlyphs" >Mut</text>
<text x="133.80" y="519.30" font-size="9.4" fill="#231f20" stroke="#231f20" stroke-width="0.18" textLength="36.40" lengthAdjust="spacingAndGlyphs" >TGF&#946; inh</text>
<text x="141.50" y="530.90" font-size="9.4" fill="#231f20" stroke="#231f20" stroke-width="0.18" textLength="21.60" lengthAdjust="spacingAndGlyphs" >n=56</text>
<clipPath id="lgc"><rect x="267.9" y="376.1" width="13" height="12.3"/></clipPath>
<g clip-path="url(#lgc)">
<rect x="267.9" y="376.1" width="6.3" height="12.3" fill="#6a6a6a"/>
<rect x="274.2" y="376.1" width="6.7" height="12.3" fill="#9a2a1c"/>
<line x1="267.40" y1="374" x2="250.40" y2="391" stroke="#fff" stroke-width="1.35"/>
<line x1="273.30" y1="374" x2="256.30" y2="391" stroke="#fff" stroke-width="1.35"/>
<line x1="279.20" y1="374" x2="262.20" y2="391" stroke="#fff" stroke-width="1.35"/>
<line x1="285.10" y1="374" x2="268.10" y2="391" stroke="#fff" stroke-width="1.35"/>
<line x1="291.00" y1="374" x2="274.00" y2="391" stroke="#fff" stroke-width="1.35"/>
<line x1="296.90" y1="374" x2="279.90" y2="391" stroke="#fff" stroke-width="1.35"/>
</g>
<text x="282.90" y="385.00" font-size="9.2" fill="#231f20" stroke="#231f20" stroke-width="0.18" textLength="50.70" lengthAdjust="spacingAndGlyphs" >low-medium</text>
<rect x="399.8" y="375.2" width="6.1" height="11.5" fill="#7b7b79"/>
<rect x="405.9" y="375.2" width="6.0" height="11.5" fill="#923d2e"/>
<text x="415.20" y="384.10" font-size="9.2" fill="#231f20" stroke="#231f20" stroke-width="0.18" textLength="37.70" lengthAdjust="spacingAndGlyphs" >low-none</text>
<defs><radialGradient id="yk1" cx="0.45" cy="0.4" r="0.62"><stop offset="0" stop-color="#f5f3ef"/><stop offset="0.65" stop-color="#eeebe6"/><stop offset="1" stop-color="#d4cfc8"/></radialGradient><radialGradient id="yk1b" cx="0.45" cy="0.4" r="0.62"><stop offset="0" stop-color="#ece4d8"/><stop offset="0.7" stop-color="#e4d9c9"/><stop offset="1" stop-color="#cfc3b1"/></radialGradient><radialGradient id="yk2" cx="0.4" cy="0.38" r="0.68"><stop offset="0" stop-color="#e5e0d7"/><stop offset="0.65" stop-color="#dcd6cb"/><stop offset="1" stop-color="#c3bbae"/></radialGradient><radialGradient id="yk2w" cx="0.45" cy="0.4" r="0.62"><stop offset="0" stop-color="#e2d9c8"/><stop offset="0.7" stop-color="#d9cfbb"/><stop offset="1" stop-color="#c5b9a4"/></radialGradient><radialGradient id="brn" cx="0.5" cy="0.5" r="0.5"><stop offset="0" stop-color="#b08658"/><stop offset="0.55" stop-color="#bb9366" stop-opacity="0.9"/><stop offset="1" stop-color="#d2b896" stop-opacity="0"/></radialGradient><radialGradient id="brn2" cx="0.5" cy="0.5" r="0.5"><stop offset="0" stop-color="#c19c70"/><stop offset="0.6" stop-color="#c9a87f" stop-opacity="0.8"/><stop offset="1" stop-color="#d9c2a2" stop-opacity="0"/></radialGradient><radialGradient id="glow" cx="0.5" cy="0.5" r="0.5"><stop offset="0" stop-color="#ffffff" stop-opacity="1"/><stop offset="1" stop-color="#ffffff" stop-opacity="0"/></radialGradient><radialGradient id="shade" cx="0.5" cy="0.5" r="0.5"><stop offset="0" stop-color="#c4c2c1" stop-opacity="1"/><stop offset="1" stop-color="#c4c2c1" stop-opacity="0"/></radialGradient><filter id="b04" x="-20%" y="-20%" width="140%" height="140%"><feGaussianBlur stdDeviation="0.4"/></filter><filter id="b06" x="-20%" y="-20%" width="140%" height="140%"><feGaussianBlur stdDeviation="0.6"/></filter><filter id="b10" x="-20%" y="-20%" width="140%" height="140%"><feGaussianBlur stdDeviation="1.0"/></filter><filter id="b25" x="-30%" y="-30%" width="160%" height="160%"><feGaussianBlur stdDeviation="2.5"/></filter><clipPath id="cp1"><rect x="268.2" y="392.3" width="96.4" height="89.6"/></clipPath><clipPath id="cp2"><rect x="400.4" y="390.9" width="95.6" height="90.6"/></clipPath></defs>
<g clip-path="url(#cp1)">
<rect x="268" y="392" width="97" height="90" fill="#eeeeef"/>
<g filter="url(#b25)"><ellipse cx="285" cy="398" rx="24" ry="9" fill="#f4f4f4"/><ellipse cx="335" cy="398" rx="14" ry="7" fill="#f1f1f2"/><ellipse cx="358" cy="402" rx="10" ry="12" fill="#e3e3e6"/><ellipse cx="303" cy="470" rx="20" ry="12" fill="#fbfbfb"/><ellipse cx="282" cy="432" rx="9" ry="14" fill="#f2f2f3"/><ellipse cx="360" cy="478" rx="10" ry="6" fill="#f6f6f6"/><ellipse cx="330" cy="430" rx="5" ry="12" fill="#e2e2e5"/><ellipse cx="290" cy="478" rx="12" ry="5" fill="#e6e6e8"/></g>
<g fill="none" stroke-linecap="round" filter="url(#b06)"><path d="M295,404 C286,400 276,404 270,416" stroke="#d9dbe0" stroke-width="7.5"/><path d="M295,404 C286,401 277,405 271,416" stroke="#f3f3f3" stroke-width="5"/><path d="M292,436 C281,442 274,452 274,462 C274,470 278,477 284,484" stroke="#d8dade" stroke-width="9.5"/><path d="M292,436 C282,442 276,452 276,462 C276,470 280,477 285,484" stroke="#f4f4f4" stroke-width="6.5"/><path d="M316,420 C322,426 325,436 323,446 C321,454 318,458 315,462" stroke="#dfe0e4" stroke-width="9"/><path d="M316,420 C321,426 324,436 322,446 C320,454 317,458 314,462" stroke="#f0f0f1" stroke-width="5.5"/><path d="M354,470 C359,468 362,465 366,462" stroke="#dcdde2" stroke-width="6"/><path d="M326,452 C334,458 338,466 340,474" stroke="#eeeeef" stroke-width="6"/></g>
<g filter="url(#b04)">
<circle cx="276.3" cy="400.9" r="0.78" fill="#959bab" opacity="0.7"/>
<circle cx="290.5" cy="399.8" r="0.46" fill="#959bab" opacity="0.7"/>
<circle cx="280.7" cy="400.1" r="0.47" fill="#959bab" opacity="0.7"/>
<circle cx="274.6" cy="403.4" r="0.83" fill="#959bab" opacity="0.7"/>
<circle cx="271.3" cy="406.7" r="0.67" fill="#959bab" opacity="0.7"/>
<circle cx="291.4" cy="399.2" r="0.57" fill="#959bab" opacity="0.7"/>
<circle cx="275.0" cy="403.9" r="0.60" fill="#959bab" opacity="0.7"/>
<circle cx="271.5" cy="408.6" r="0.65" fill="#959bab" opacity="0.7"/>
<circle cx="272.8" cy="406.0" r="0.63" fill="#959bab" opacity="0.7"/>
<circle cx="282.1" cy="399.9" r="0.48" fill="#959bab" opacity="0.7"/>
<circle cx="281.0" cy="400.8" r="0.57" fill="#959bab" opacity="0.7"/>
<circle cx="293.7" cy="400.8" r="0.51" fill="#959bab" opacity="0.7"/>
<circle cx="282.1" cy="399.1" r="0.67" fill="#959bab" opacity="0.7"/>
<circle cx="281.6" cy="399.7" r="0.77" fill="#959bab" opacity="0.7"/>
<circle cx="287.5" cy="398.8" r="0.72" fill="#959bab" opacity="0.7"/>
<circle cx="287.3" cy="399.2" r="0.72" fill="#959bab" opacity="0.7"/>
<circle cx="282.2" cy="399.8" r="0.46" fill="#959bab" opacity="0.7"/>
<circle cx="282.0" cy="399.7" r="0.54" fill="#959bab" opacity="0.7"/>
<circle cx="283.3" cy="398.7" r="0.80" fill="#959bab" opacity="0.7"/>
<circle cx="293.1" cy="399.7" r="0.50" fill="#959bab" opacity="0.7"/>
<circle cx="276.8" cy="401.4" r="0.59" fill="#959bab" opacity="0.7"/>
<circle cx="275.7" cy="401.2" r="0.54" fill="#959bab" opacity="0.7"/>
<circle cx="295.5" cy="399.8" r="0.56" fill="#959bab" opacity="0.7"/>
<circle cx="290.5" cy="399.8" r="0.83" fill="#959bab" opacity="0.7"/>
<circle cx="271.3" cy="410.0" r="0.75" fill="#959bab" opacity="0.7"/>
<circle cx="277.5" cy="402.4" r="0.77" fill="#959bab" opacity="0.7"/>
<circle cx="281.2" cy="399.9" r="0.61" fill="#959bab" opacity="0.7"/>
<circle cx="293.7" cy="399.7" r="0.59" fill="#959bab" opacity="0.7"/>
<circle cx="294.1" cy="400.4" r="0.83" fill="#959bab" opacity="0.7"/>
<circle cx="276.6" cy="402.5" r="0.51" fill="#959bab" opacity="0.7"/>
<circle cx="276.6" cy="401.8" r="0.50" fill="#959bab" opacity="0.7"/>
<circle cx="276.0" cy="401.9" r="0.48" fill="#959bab" opacity="0.7"/>
<circle cx="288.0" cy="399.0" r="0.73" fill="#959bab" opacity="0.7"/>
<circle cx="276.8" cy="402.3" r="0.51" fill="#959bab" opacity="0.7"/>
</g>
<g filter="url(#b04)">
<circle cx="280.0" cy="481.9" r="0.71" fill="#989eae" opacity="0.7"/>
<circle cx="280.9" cy="436.8" r="0.52" fill="#989eae" opacity="0.7"/>
<circle cx="274.8" cy="445.1" r="0.54" fill="#989eae" opacity="0.7"/>
<circle cx="273.0" cy="449.2" r="0.54" fill="#989eae" opacity="0.7"/>
<circle cx="277.4" cy="479.9" r="0.77" fill="#989eae" opacity="0.7"/>
<circle cx="271.8" cy="467.8" r="0.63" fill="#989eae" opacity="0.7"/>
<circle cx="270.3" cy="462.9" r="0.54" fill="#989eae" opacity="0.7"/>
<circle cx="275.6" cy="444.0" r="0.69" fill="#989eae" opacity="0.7"/>
<circle cx="284.0" cy="436.2" r="0.48" fill="#989eae" opacity="0.7"/>
<circle cx="279.6" cy="438.9" r="0.64" fill="#989eae" opacity="0.7"/>
<circle cx="275.2" cy="443.4" r="0.83" fill="#989eae" opacity="0.7"/>
<circle cx="272.6" cy="468.3" r="0.51" fill="#989eae" opacity="0.7"/>
<circle cx="278.0" cy="439.3" r="0.71" fill="#989eae" opacity="0.7"/>
<circle cx="279.9" cy="481.9" r="0.59" fill="#989eae" opacity="0.7"/>
<circle cx="276.3" cy="480.0" r="0.74" fill="#989eae" opacity="0.7"/>
<circle cx="284.1" cy="435.8" r="0.80" fill="#989eae" opacity="0.7"/>
<circle cx="277.2" cy="439.3" r="0.76" fill="#989eae" opacity="0.7"/>
<circle cx="270.7" cy="453.6" r="0.81" fill="#989eae" opacity="0.7"/>
<circle cx="270.9" cy="463.3" r="0.66" fill="#989eae" opacity="0.7"/>
<circle cx="274.1" cy="476.1" r="0.80" fill="#989eae" opacity="0.7"/>
<circle cx="274.3" cy="445.6" r="0.51" fill="#989eae" opacity="0.7"/>
<circle cx="278.5" cy="480.5" r="0.66" fill="#989eae" opacity="0.7"/>
<circle cx="277.4" cy="479.6" r="0.47" fill="#989eae" opacity="0.7"/>
<circle cx="276.6" cy="442.3" r="0.67" fill="#989eae" opacity="0.7"/>
<circle cx="284.3" cy="435.4" r="0.65" fill="#989eae" opacity="0.7"/>
<circle cx="270.8" cy="456.8" r="0.83" fill="#989eae" opacity="0.7"/>
<circle cx="280.1" cy="481.5" r="0.67" fill="#989eae" opacity="0.7"/>
<circle cx="271.4" cy="448.3" r="0.63" fill="#989eae" opacity="0.7"/>
<circle cx="281.5" cy="436.3" r="0.57" fill="#989eae" opacity="0.7"/>
<circle cx="278.4" cy="438.8" r="0.71" fill="#989eae" opacity="0.7"/>
<circle cx="275.5" cy="442.0" r="0.75" fill="#989eae" opacity="0.7"/>
<circle cx="284.6" cy="436.1" r="0.78" fill="#989eae" opacity="0.7"/>
<circle cx="274.0" cy="447.3" r="0.62" fill="#989eae" opacity="0.7"/>
<circle cx="271.3" cy="454.2" r="0.67" fill="#989eae" opacity="0.7"/>
<circle cx="272.7" cy="471.8" r="0.57" fill="#989eae" opacity="0.7"/>
<circle cx="288.6" cy="432.7" r="0.80" fill="#989eae" opacity="0.7"/>
<circle cx="285.2" cy="434.8" r="0.56" fill="#989eae" opacity="0.7"/>
<circle cx="273.0" cy="449.2" r="0.83" fill="#989eae" opacity="0.7"/>
<circle cx="271.9" cy="465.8" r="0.73" fill="#989eae" opacity="0.7"/>
<circle cx="286.5" cy="433.7" r="0.81" fill="#989eae" opacity="0.7"/>
<circle cx="270.8" cy="463.8" r="0.48" fill="#989eae" opacity="0.7"/>
<circle cx="278.3" cy="439.7" r="0.59" fill="#989eae" opacity="0.7"/>
<circle cx="277.3" cy="478.6" r="0.47" fill="#989eae" opacity="0.7"/>
<circle cx="272.4" cy="449.8" r="0.52" fill="#989eae" opacity="0.7"/>
</g>
<g filter="url(#b04)">
<circle cx="281.1" cy="457.4" r="0.65" fill="#a8adb9" opacity="0.6"/>
<circle cx="280.9" cy="463.4" r="0.56" fill="#a8adb9" opacity="0.6"/>
<circle cx="289.9" cy="441.9" r="0.68" fill="#a8adb9" opacity="0.6"/>
<circle cx="281.9" cy="450.9" r="0.64" fill="#a8adb9" opacity="0.6"/>
<circle cx="281.8" cy="457.8" r="0.59" fill="#a8adb9" opacity="0.6"/>
<circle cx="281.9" cy="451.4" r="0.77" fill="#a8adb9" opacity="0.6"/>
<circle cx="281.8" cy="464.4" r="0.83" fill="#a8adb9" opacity="0.6"/>
<circle cx="289.8" cy="441.3" r="0.52" fill="#a8adb9" opacity="0.6"/>
<circle cx="284.5" cy="447.7" r="0.89" fill="#a8adb9" opacity="0.6"/>
<circle cx="281.0" cy="464.8" r="0.52" fill="#a8adb9" opacity="0.6"/>
<circle cx="281.8" cy="450.8" r="0.89" fill="#a8adb9" opacity="0.6"/>
<circle cx="282.4" cy="453.4" r="0.61" fill="#a8adb9" opacity="0.6"/>
<circle cx="286.7" cy="444.0" r="0.75" fill="#a8adb9" opacity="0.6"/>
<circle cx="285.2" cy="445.7" r="0.49" fill="#a8adb9" opacity="0.6"/>
</g>
<g filter="url(#b04)">
<circle cx="360.4" cy="462.0" r="0.73" fill="#8c93a2" opacity="0.8"/>
<circle cx="360.8" cy="463.1" r="0.75" fill="#8c93a2" opacity="0.8"/>
<circle cx="362.6" cy="461.4" r="0.58" fill="#8c93a2" opacity="0.8"/>
<circle cx="357.2" cy="466.7" r="0.73" fill="#8c93a2" opacity="0.8"/>
<circle cx="363.9" cy="460.7" r="0.82" fill="#8c93a2" opacity="0.8"/>
<circle cx="362.8" cy="462.0" r="0.76" fill="#8c93a2" opacity="0.8"/>
<circle cx="355.6" cy="465.8" r="0.88" fill="#8c93a2" opacity="0.8"/>
<circle cx="362.8" cy="461.3" r="0.73" fill="#8c93a2" opacity="0.8"/>
<circle cx="358.7" cy="463.8" r="0.79" fill="#8c93a2" opacity="0.8"/>
<circle cx="360.2" cy="462.6" r="0.56" fill="#8c93a2" opacity="0.8"/>
</g>
<g fill="#eeeef0" stroke="#6b7385" stroke-width="1.2" filter="url(#b04)"><ellipse cx="323.6" cy="419.9" rx="3.0" ry="2.4"/><ellipse cx="345.2" cy="414.3" rx="2.2" ry="3.0" transform="rotate(-25 345.2 414.3)"/><ellipse cx="352.3" cy="413.2" rx="1.8" ry="2.9" transform="rotate(25 352.3 413.2)"/><ellipse cx="322.8" cy="466" rx="3.1" ry="2.4"/></g>
<g fill="none" stroke="#8890a0" stroke-width="1.0" filter="url(#b06)"><path d="M318,425 C320,428 324,429 327,427"/><path d="M319,433 C321,436 325,437 328,434"/><path d="M322,438 C324,440 327,441 329,439"/><path d="M317,450 C320,454 324,455 327,452"/><path d="M326,470 C330,473 334,474 337,472"/><path d="M340,418 C342,421 346,422 349,420"/></g>
<ellipse cx="303.5" cy="414" rx="13.2" ry="12.6" fill="url(#yk1)" filter="url(#b06)"/>
<ellipse cx="304.5" cy="441.8" rx="13.8" ry="13.6" fill="url(#yk1)" filter="url(#b06)"/>
<ellipse cx="344.2" cy="435.3" rx="13.3" ry="12.8" fill="url(#yk1b)" filter="url(#b06)"/>
<ellipse cx="342.9" cy="463.2" rx="13.5" ry="11.6" fill="url(#yk1)" filter="url(#b06)"/>
<g filter="url(#b10)" fill="#c4a37a" opacity="0.8"><path d="M303.5,409 C305,405.5 311,405.5 313.5,409 C315.5,413 314.5,418 312.5,421 C309.5,423.5 305,422.5 304,419 C303,416 302.8,412 303.5,409 Z"/><path d="M295.5,436.5 C296.5,432 302,430.5 306.5,432 C309.5,433.5 309.5,437.5 306,439.5 C302,441.5 296.5,440.5 295.5,436.5 Z"/><path d="M333.5,457 C334.5,453 339,452.5 343.5,455 C346.5,458 347.5,463 345.5,467.5 C342.5,470.5 337.5,469.5 335.5,466 C333.5,463 333,460 333.5,457 Z"/></g>
<g filter="url(#b10)" fill="#9f7548" opacity="0.45"><circle cx="305.2" cy="411.0" r="0.94"/><circle cx="306.3" cy="417.1" r="1.09"/><circle cx="308.9" cy="412.5" r="0.79"/><circle cx="310.7" cy="417.5" r="0.87"/><circle cx="310.3" cy="408.5" r="0.59"/><circle cx="306.8" cy="417.2" r="0.68"/><circle cx="309.6" cy="407.7" r="0.54"/><circle cx="306.9" cy="416.2" r="0.92"/><circle cx="310.6" cy="411.3" r="0.81"/><circle cx="308.7" cy="413.6" r="0.57"/><circle cx="312.5" cy="410.1" r="1.09"/><circle cx="312.9" cy="407.7" r="0.78"/><circle cx="311.9" cy="420.1" r="0.77"/><circle cx="306.9" cy="410.2" r="1.07"/><circle cx="306.4" cy="415.1" r="0.59"/><circle cx="309.2" cy="419.9" r="0.58"/><circle cx="311.9" cy="414.1" r="1.03"/><circle cx="310.8" cy="410.5" r="1.04"/><circle cx="308.9" cy="407.8" r="0.50"/><circle cx="308.9" cy="413.4" r="0.68"/><circle cx="305.8" cy="412.0" r="0.69"/><circle cx="312.1" cy="407.5" r="0.95"/><circle cx="312.1" cy="409.1" r="1.06"/><circle cx="310.9" cy="419.2" r="0.67"/><circle cx="307.8" cy="412.6" r="1.10"/><circle cx="309.8" cy="412.2" r="0.76"/><circle cx="299.5" cy="432.8" r="0.56"/><circle cx="305.7" cy="434.5" r="1.06"/><circle cx="299.2" cy="434.4" r="0.81"/><circle cx="298.6" cy="435.1" r="1.07"/><circle cx="306.2" cy="438.2" r="0.88"/><circle cx="306.5" cy="439.1" r="0.83"/><circle cx="304.4" cy="432.8" r="0.94"/><circle cx="301.5" cy="437.8" r="0.89"/><circle cx="299.6" cy="432.8" r="1.06"/><circle cx="297.9" cy="435.8" r="0.71"/><circle cx="299.8" cy="437.7" r="1.09"/><circle cx="299.4" cy="437.1" r="0.68"/><circle cx="302.6" cy="435.3" r="0.60"/><circle cx="298.3" cy="434.0" r="1.04"/><circle cx="302.0" cy="434.0" r="1.04"/><circle cx="307.5" cy="435.6" r="0.58"/><circle cx="298.6" cy="433.1" r="0.71"/><circle cx="297.5" cy="434.2" r="0.66"/><circle cx="302.8" cy="438.7" r="0.95"/><circle cx="301.0" cy="435.4" r="0.81"/><circle cx="338.8" cy="459.2" r="0.54"/><circle cx="337.8" cy="468.0" r="0.58"/><circle cx="340.0" cy="463.3" r="1.02"/><circle cx="337.2" cy="458.3" r="0.65"/><circle cx="339.0" cy="460.7" r="1.07"/><circle cx="343.5" cy="466.7" r="0.51"/><circle cx="335.3" cy="464.4" r="1.04"/><circle cx="339.7" cy="462.7" r="0.50"/><circle cx="338.9" cy="467.5" r="1.00"/><circle cx="343.6" cy="468.1" r="0.65"/><circle cx="336.1" cy="456.7" r="0.81"/><circle cx="341.8" cy="467.7" r="0.93"/><circle cx="341.5" cy="465.2" r="0.77"/><circle cx="340.5" cy="455.1" r="0.97"/><circle cx="337.3" cy="467.4" r="0.89"/><circle cx="338.0" cy="456.3" r="0.65"/><circle cx="341.4" cy="464.3" r="0.57"/><circle cx="335.7" cy="461.8" r="0.85"/><circle cx="338.9" cy="457.6" r="0.86"/><circle cx="335.1" cy="458.7" r="0.78"/><circle cx="344.6" cy="463.5" r="1.03"/><circle cx="339.8" cy="457.8" r="0.65"/><circle cx="344.6" cy="464.4" r="0.68"/><circle cx="335.2" cy="461.5" r="0.90"/><circle cx="339.2" cy="458.1" r="0.90"/><circle cx="344.3" cy="457.7" r="0.52"/><circle cx="349.2" cy="435.9" r="0.91"/><circle cx="347.7" cy="441.2" r="0.94"/><circle cx="351.1" cy="432.9" r="1.08"/><circle cx="348.9" cy="441.5" r="0.64"/><circle cx="347.9" cy="440.6" r="0.68"/><circle cx="356.0" cy="436.9" r="0.61"/><circle cx="348.0" cy="435.8" r="0.90"/><circle cx="355.9" cy="432.0" r="0.74"/><circle cx="347.8" cy="443.6" r="0.59"/><circle cx="346.1" cy="430.8" r="0.74"/></g>
<g filter="url(#b25)" fill="#c9a983" opacity="0.7"><ellipse cx="350" cy="437" rx="7.5" ry="9"/></g>
</g>
<g clip-path="url(#cp2)">
<rect x="400" y="390" width="97" height="92" fill="#e5e4e4"/>
<g filter="url(#b25)"><ellipse cx="416" cy="400" rx="22" ry="14" fill="#f5f5f5"/><ellipse cx="408" cy="432" rx="10" ry="16" fill="#f4f4f4"/><ellipse cx="484" cy="402" rx="15" ry="13" fill="#cbc9c7"/><ellipse cx="463" cy="422" rx="7" ry="10" fill="#cdcbc9"/><ellipse cx="438" cy="476" rx="22" ry="9" fill="#f8f8f8"/><ellipse cx="490" cy="474" rx="9" ry="9" fill="#f4f4f4"/><ellipse cx="438" cy="428" rx="8" ry="5" fill="#f1f1f1"/></g>
<g fill="none" stroke-linecap="round" filter="url(#b06)"><path d="M408,408 C416,413 428,413 438,405" stroke="#e2e2e4" stroke-width="11"/><path d="M408,408 C416,413 428,413 438,405" stroke="#f3f2f1" stroke-width="8.5"/><path d="M414,426 C424,425 436,428 446,436" stroke="#e6e6e8" stroke-width="11"/><path d="M414,426 C424,425 436,428 446,436" stroke="#f2f1f0" stroke-width="8.5"/><path d="M411,452 C405,460 405,470 410,482" stroke="#e4e4e6" stroke-width="10"/><path d="M411,452 C405,460 405,470 410,482" stroke="#f2f1f0" stroke-width="7.5"/><path d="M483,452 C488,451 493,452 498,452" stroke="#e9e8e9" stroke-width="6.5"/><path d="M471,422 C471,430 470,438 466,446 C464,452 464,456 466,459" stroke="#e6e5e5" stroke-width="6"/></g>
<g filter="url(#b06)" stroke="#d4d4d8" stroke-width="0.8"><ellipse cx="456" cy="398" rx="8" ry="7.5" fill="#e8e7e6"/><ellipse cx="472.5" cy="417.5" rx="6" ry="7" fill="#e2e1e1"/><ellipse cx="451.5" cy="444.5" rx="12" ry="16" fill="#e3e1de"/><ellipse cx="458" cy="471" rx="6.5" ry="9" fill="#e1dfdd"/><ellipse cx="479" cy="448" rx="5" ry="6" fill="#e4e3e2"/></g>
<g filter="url(#b04)">
<circle cx="436.3" cy="398.8" r="0.77" fill="#5f677b" opacity="0.8"/>
<circle cx="420.2" cy="403.7" r="0.59" fill="#5f677b" opacity="0.8"/>
<circle cx="424.5" cy="402.5" r="0.53" fill="#5f677b" opacity="0.8"/>
<circle cx="409.3" cy="402.0" r="0.57" fill="#5f677b" opacity="0.8"/>
<circle cx="414.5" cy="403.1" r="0.71" fill="#5f677b" opacity="0.8"/>
<circle cx="426.1" cy="401.6" r="0.59" fill="#5f677b" opacity="0.8"/>
<circle cx="423.3" cy="402.6" r="0.69" fill="#5f677b" opacity="0.8"/>
<circle cx="418.2" cy="404.4" r="0.71" fill="#5f677b" opacity="0.8"/>
<circle cx="412.3" cy="403.5" r="0.42" fill="#5f677b" opacity="0.8"/>
<circle cx="416.4" cy="403.4" r="0.51" fill="#5f677b" opacity="0.8"/>
<circle cx="428.8" cy="402.1" r="0.77" fill="#5f677b" opacity="0.8"/>
<circle cx="418.4" cy="404.7" r="0.65" fill="#5f677b" opacity="0.8"/>
<circle cx="408.8" cy="402.5" r="0.78" fill="#5f677b" opacity="0.8"/>
<circle cx="426.6" cy="402.9" r="0.45" fill="#5f677b" opacity="0.8"/>
<circle cx="420.3" cy="404.0" r="0.73" fill="#5f677b" opacity="0.8"/>
<circle cx="414.2" cy="403.1" r="0.54" fill="#5f677b" opacity="0.8"/>
<circle cx="428.2" cy="402.0" r="0.50" fill="#5f677b" opacity="0.8"/>
<circle cx="414.8" cy="403.5" r="0.46" fill="#5f677b" opacity="0.8"/>
<circle cx="427.6" cy="401.9" r="0.43" fill="#5f677b" opacity="0.8"/>
<circle cx="413.6" cy="403.9" r="0.47" fill="#5f677b" opacity="0.8"/>
<circle cx="412.9" cy="403.4" r="0.70" fill="#5f677b" opacity="0.8"/>
<circle cx="435.3" cy="398.3" r="0.51" fill="#5f677b" opacity="0.8"/>
<circle cx="422.1" cy="402.8" r="0.50" fill="#5f677b" opacity="0.8"/>
<circle cx="410.8" cy="403.5" r="0.48" fill="#5f677b" opacity="0.8"/>
<circle cx="413.4" cy="403.1" r="0.49" fill="#5f677b" opacity="0.8"/>
<circle cx="415.7" cy="402.8" r="0.59" fill="#5f677b" opacity="0.8"/>
</g>
<g filter="url(#b04)">
<circle cx="458.2" cy="391.0" r="0.53" fill="#4f586c" opacity="0.85"/>
<circle cx="451.7" cy="393.5" r="0.49" fill="#4f586c" opacity="0.85"/>
<circle cx="454.8" cy="392.3" r="0.52" fill="#4f586c" opacity="0.85"/>
<circle cx="452.0" cy="392.9" r="0.50" fill="#4f586c" opacity="0.85"/>
<circle cx="458.2" cy="395.6" r="0.42" fill="#4f586c" opacity="0.85"/>
<circle cx="457.7" cy="392.2" r="0.57" fill="#4f586c" opacity="0.85"/>
<circle cx="456.9" cy="392.8" r="0.62" fill="#4f586c" opacity="0.85"/>
<circle cx="458.2" cy="393.1" r="0.69" fill="#4f586c" opacity="0.85"/>
<circle cx="455.2" cy="391.8" r="0.84" fill="#4f586c" opacity="0.85"/>
<circle cx="458.7" cy="395.2" r="0.80" fill="#4f586c" opacity="0.85"/>
<circle cx="461.2" cy="396.0" r="0.56" fill="#4f586c" opacity="0.85"/>
<circle cx="453.4" cy="393.9" r="0.60" fill="#4f586c" opacity="0.85"/>
<circle cx="455.0" cy="392.2" r="0.80" fill="#4f586c" opacity="0.85"/>
<circle cx="460.7" cy="394.5" r="0.46" fill="#4f586c" opacity="0.85"/>
<circle cx="458.8" cy="392.5" r="0.63" fill="#4f586c" opacity="0.85"/>
<circle cx="452.4" cy="391.4" r="0.43" fill="#4f586c" opacity="0.85"/>
</g>
<g filter="url(#b04)">
<circle cx="453.5" cy="448.4" r="0.49" fill="#4f586c" opacity="0.8"/>
<circle cx="447.0" cy="442.8" r="0.54" fill="#4f586c" opacity="0.8"/>
<circle cx="450.6" cy="457.7" r="0.68" fill="#4f586c" opacity="0.8"/>
<circle cx="450.4" cy="439.8" r="0.68" fill="#4f586c" opacity="0.8"/>
<circle cx="447.7" cy="439.2" r="0.58" fill="#4f586c" opacity="0.8"/>
<circle cx="452.8" cy="449.1" r="0.84" fill="#4f586c" opacity="0.8"/>
<circle cx="446.5" cy="435.7" r="0.42" fill="#4f586c" opacity="0.8"/>
<circle cx="451.0" cy="443.2" r="0.68" fill="#4f586c" opacity="0.8"/>
<circle cx="451.6" cy="445.9" r="0.58" fill="#4f586c" opacity="0.8"/>
<circle cx="451.5" cy="443.1" r="0.68" fill="#4f586c" opacity="0.8"/>
<circle cx="451.6" cy="446.3" r="0.77" fill="#4f586c" opacity="0.8"/>
<circle cx="448.7" cy="438.2" r="0.56" fill="#4f586c" opacity="0.8"/>
<circle cx="450.1" cy="442.8" r="0.42" fill="#4f586c" opacity="0.8"/>
<circle cx="455.8" cy="449.8" r="0.72" fill="#4f586c" opacity="0.8"/>
<circle cx="446.2" cy="433.8" r="0.83" fill="#4f586c" opacity="0.8"/>
<circle cx="443.8" cy="434.8" r="0.71" fill="#4f586c" opacity="0.8"/>
<circle cx="449.3" cy="435.5" r="0.83" fill="#4f586c" opacity="0.8"/>
<circle cx="449.9" cy="438.0" r="0.77" fill="#4f586c" opacity="0.8"/>
<circle cx="450.0" cy="456.6" r="0.52" fill="#4f586c" opacity="0.8"/>
<circle cx="450.6" cy="445.3" r="0.49" fill="#4f586c" opacity="0.8"/>
<circle cx="451.1" cy="446.3" r="0.49" fill="#4f586c" opacity="0.8"/>
<circle cx="452.9" cy="444.2" r="0.80" fill="#4f586c" opacity="0.8"/>
<circle cx="447.9" cy="441.7" r="0.42" fill="#4f586c" opacity="0.8"/>
<circle cx="453.6" cy="449.8" r="0.71" fill="#4f586c" opacity="0.8"/>
<circle cx="447.2" cy="437.9" r="0.73" fill="#4f586c" opacity="0.8"/>
<circle cx="453.6" cy="444.5" r="0.56" fill="#4f586c" opacity="0.8"/>
<circle cx="446.1" cy="438.8" r="0.42" fill="#4f586c" opacity="0.8"/>
<circle cx="454.0" cy="454.0" r="0.66" fill="#4f586c" opacity="0.8"/>
<circle cx="452.5" cy="456.7" r="0.50" fill="#4f586c" opacity="0.8"/>
<circle cx="452.1" cy="447.0" r="0.80" fill="#4f586c" opacity="0.8"/>
<circle cx="448.5" cy="435.5" r="0.42" fill="#4f586c" opacity="0.8"/>
<circle cx="450.9" cy="451.4" r="0.50" fill="#4f586c" opacity="0.8"/>
<circle cx="451.2" cy="451.1" r="0.77" fill="#4f586c" opacity="0.8"/>
<circle cx="448.8" cy="433.7" r="0.47" fill="#4f586c" opacity="0.8"/>
<circle cx="444.4" cy="435.4" r="0.52" fill="#4f586c" opacity="0.8"/>
<circle cx="451.6" cy="451.4" r="0.80" fill="#4f586c" opacity="0.8"/>
</g>
<g filter="url(#b04)">
<circle cx="471.9" cy="416.2" r="0.47" fill="#4f586c" opacity="0.85"/>
<circle cx="470.3" cy="411.9" r="0.51" fill="#4f586c" opacity="0.85"/>
<circle cx="471.2" cy="418.8" r="0.70" fill="#4f586c" opacity="0.85"/>
<circle cx="469.2" cy="413.4" r="0.63" fill="#4f586c" opacity="0.85"/>
<circle cx="471.1" cy="416.9" r="0.54" fill="#4f586c" opacity="0.85"/>
<circle cx="473.9" cy="418.9" r="0.64" fill="#4f586c" opacity="0.85"/>
<circle cx="473.5" cy="417.8" r="0.73" fill="#4f586c" opacity="0.85"/>
<circle cx="472.5" cy="412.3" r="0.69" fill="#4f586c" opacity="0.85"/>
<circle cx="472.0" cy="415.1" r="0.78" fill="#4f586c" opacity="0.85"/>
<circle cx="471.0" cy="413.6" r="0.75" fill="#4f586c" opacity="0.85"/>
<circle cx="472.6" cy="415.6" r="0.44" fill="#4f586c" opacity="0.85"/>
<circle cx="472.1" cy="414.6" r="0.49" fill="#4f586c" opacity="0.85"/>
</g>
<g filter="url(#b04)">
<circle cx="455.0" cy="471.4" r="0.55" fill="#4f586c" opacity="0.85"/>
<circle cx="456.9" cy="468.3" r="0.84" fill="#4f586c" opacity="0.85"/>
<circle cx="457.1" cy="474.1" r="0.41" fill="#4f586c" opacity="0.85"/>
<circle cx="454.7" cy="466.9" r="0.68" fill="#4f586c" opacity="0.85"/>
<circle cx="454.1" cy="466.0" r="0.45" fill="#4f586c" opacity="0.85"/>
<circle cx="453.8" cy="464.0" r="0.42" fill="#4f586c" opacity="0.85"/>
<circle cx="456.7" cy="467.4" r="0.67" fill="#4f586c" opacity="0.85"/>
<circle cx="458.4" cy="473.9" r="0.70" fill="#4f586c" opacity="0.85"/>
<circle cx="454.9" cy="471.3" r="0.42" fill="#4f586c" opacity="0.85"/>
<circle cx="456.4" cy="469.5" r="0.44" fill="#4f586c" opacity="0.85"/>
<circle cx="456.4" cy="469.2" r="0.55" fill="#4f586c" opacity="0.85"/>
<circle cx="455.0" cy="471.2" r="0.72" fill="#4f586c" opacity="0.85"/>
<circle cx="459.0" cy="480.6" r="0.61" fill="#4f586c" opacity="0.85"/>
<circle cx="455.2" cy="477.2" r="0.60" fill="#4f586c" opacity="0.85"/>
<circle cx="456.2" cy="466.3" r="0.50" fill="#4f586c" opacity="0.85"/>
<circle cx="454.6" cy="467.9" r="0.64" fill="#4f586c" opacity="0.85"/>
<circle cx="459.6" cy="476.7" r="0.62" fill="#4f586c" opacity="0.85"/>
<circle cx="458.8" cy="480.3" r="0.67" fill="#4f586c" opacity="0.85"/>
<circle cx="455.7" cy="478.6" r="0.82" fill="#4f586c" opacity="0.85"/>
<circle cx="453.8" cy="468.1" r="0.44" fill="#4f586c" opacity="0.85"/>
<circle cx="455.0" cy="468.2" r="0.58" fill="#4f586c" opacity="0.85"/>
<circle cx="456.1" cy="466.2" r="0.54" fill="#4f586c" opacity="0.85"/>
</g>
<g filter="url(#b04)">
<circle cx="494.9" cy="450.5" r="0.66" fill="#6a7285" opacity="0.7"/>
<circle cx="494.5" cy="451.1" r="0.59" fill="#6a7285" opacity="0.7"/>
<circle cx="488.4" cy="448.9" r="0.65" fill="#6a7285" opacity="0.7"/>
<circle cx="486.7" cy="450.0" r="0.55" fill="#6a7285" opacity="0.7"/>
<circle cx="489.0" cy="450.1" r="0.53" fill="#6a7285" opacity="0.7"/>
<circle cx="488.8" cy="450.4" r="0.40" fill="#6a7285" opacity="0.7"/>
<circle cx="496.3" cy="451.2" r="0.47" fill="#6a7285" opacity="0.7"/>
<circle cx="487.9" cy="450.8" r="0.61" fill="#6a7285" opacity="0.7"/>
<circle cx="487.2" cy="448.6" r="0.40" fill="#6a7285" opacity="0.7"/>
</g>
<g filter="url(#b04)">
<circle cx="409.3" cy="463.5" r="0.36" fill="#8a90a0" opacity="0.5"/>
<circle cx="411.0" cy="457.9" r="0.30" fill="#8a90a0" opacity="0.5"/>
<circle cx="410.1" cy="474.9" r="0.44" fill="#8a90a0" opacity="0.5"/>
<circle cx="410.4" cy="455.9" r="0.37" fill="#8a90a0" opacity="0.5"/>
<circle cx="410.5" cy="475.0" r="0.55" fill="#8a90a0" opacity="0.5"/>
<circle cx="409.2" cy="462.3" r="0.39" fill="#8a90a0" opacity="0.5"/>
<circle cx="407.2" cy="464.4" r="0.51" fill="#8a90a0" opacity="0.5"/>
<circle cx="409.2" cy="457.6" r="0.49" fill="#8a90a0" opacity="0.5"/>
<circle cx="410.2" cy="473.7" r="0.57" fill="#8a90a0" opacity="0.5"/>
</g>
<ellipse cx="445.2" cy="409.6" rx="12.0" ry="11.8" fill="url(#yk2)" filter="url(#b06)"/>
<ellipse cx="424" cy="448" rx="13.8" ry="13.8" fill="url(#yk2)" filter="url(#b06)"/>
<ellipse cx="482.6" cy="431.6" rx="12.4" ry="12.4" fill="url(#yk2)" filter="url(#b06)"/>
<ellipse cx="470.4" cy="463.8" rx="11.2" ry="10.8" fill="url(#yk2w)" filter="url(#b06)"/>
</g>
<rect x="0" y="0" width="520" height="2" fill="#5c5c5c"/>
<rect x="518" y="0" width="2" height="541" fill="#5c5c5c"/>
<rect x="0" y="0" width="1.25" height="541" fill="#050505"/>
<rect x="0" y="539.45" width="520" height="1.55" fill="#050505"/>
</svg>
</body></html>
